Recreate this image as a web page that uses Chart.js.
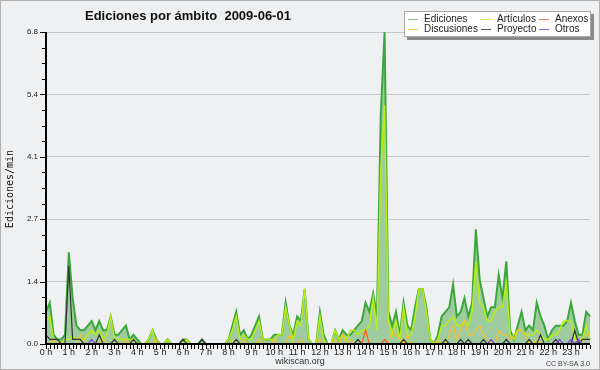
<!DOCTYPE html>
<html><head><meta charset="utf-8">
<script src="https://cdn.jsdelivr.net/npm/chart.js@4/dist/chart.umd.min.js"></script>
<style>html,body{margin:0;padding:0;background:#eff0f2;}canvas{display:block;}</style>
</head><body>
<canvas id="c" width="600" height="370"></canvas>
<script>
const TITLE = 'Ediciones por ámbito  2009-06-01';
const Y_TITLE = 'Ediciones/min';
const HOUR_LABELS = ['0 h','1 h','2 h','3 h','4 h','5 h','6 h','7 h','8 h','9 h','10 h','11 h','12 h','13 h','14 h','15 h','16 h','17 h','18 h','19 h','20 h','21 h','22 h','23 h'];
const MINUTES = ['00','10','20','30','40','50'];
const Y_TICKS = [0, 1.36, 2.72, 4.08, 5.44, 6.8];
const SERIES_NAMES = ['Ediciones','Artículos','Anexos','Discusiones','Proyecto','Otros'];

const EDICIONES = [
 0.7,0.9,0.2,0.1,0.1,0.2,2.0,1.0,0.4,0.3,0.3,0.4,
 0.5,0.3,0.5,0.3,0.3,0.6,0.2,0.2,0.3,0.4,0.1,0.2,
 0.1,0,0,0.1,0.3,0.1,0,0,0.1,0,0,0,
 0.1,0.1,0,0,0,0.1,0,0,0,0,0,0,
 0.1,0.4,0.7,0.2,0.3,0.1,0.2,0.4,0.6,0.1,0.1,0.1,
 0.2,0.2,0.2,0.9,0.4,0.2,0.6,0.5,1.2,0.1,0,0,
 0.7,0.2,0,0,0.3,0.1,0.3,0.2,0.2,0.3,0.4,0.5,
 0.9,0.7,1.1,0.6,5.0,6.8,0.7,0.4,0.7,0.2,0.9,0.4,
 0.3,0.8,1.2,1.2,0.8,0.1,0,0.2,0.6,0.7,0.8,1.3,
 0.6,0.7,1.0,0.6,0.9,2.5,1.4,1.0,0.6,0.8,0.8,1.5,
 1.0,1.8,0.3,0.1,0.4,0.7,0.3,0.4,0.3,0.9,0.6,0.4,
 0.1,0.3,0.4,0.4,0.4,0.5,0.9,0.5,0.2,0.2,0.7,0.6
];
const ARTICULOS = [
 0.5,0.6,0.1,0,0,0.1,0.1,0.2,0.1,0.1,0.1,0.2,
 0.3,0.2,0.3,0.1,0.2,0.6,0.1,0.1,0.1,0.1,0.1,0.1,
 0,0,0,0.1,0.3,0,0,0,0.1,0,0,0,
 0,0.1,0,0,0,0,0,0,0,0,0,0,
 0.1,0.3,0.6,0.1,0.2,0.1,0.1,0.3,0.5,0.1,0.1,0.1,
 0.1,0.2,0.2,0.8,0.4,0.1,0.5,0.4,1.2,0.1,0,0,
 0.6,0.1,0,0,0.3,0.1,0.2,0.1,0.3,0.3,0.2,0.3,
 0.3,0.4,1.0,0.3,3.8,5.2,0.5,0.2,0.5,0.1,0.8,0.2,
 0.2,0.6,1.2,1.2,0.7,0.1,0,0.1,0.4,0.4,0.5,0.6,
 0.4,0.4,0.5,0.4,0.7,1.8,0.9,0.8,0.5,0.5,0.7,0.8,
 0.8,1.3,0.2,0.1,0.3,0.3,0.2,0.2,0.2,0.3,0.2,0.1,
 0.1,0.2,0.2,0.3,0.5,0.5,0.5,0.1,0.1,0.1,0.4,0.1
];
const DISCUSIONES = [
 0,0,0.1,0,0,0,0,0,0,0.2,0,0,
 0,0,0,0.1,0,0,0.1,0,0,0.1,0,0,
 0,0,0,0,0,0.1,0,0,0,0,0,0,
 0,0,0,0,0,0,0,0,0,0,0,0,
 0,0.1,0,0,0.1,0,0,0,0.1,0,0,0,
 0.1,0,0,0,0.2,0,0,0.1,0,0,0,0,
 0.1,0,0,0,0.1,0,0.2,0,0.1,0,0,0,
 0.3,0,0,0,0,0,0,0.3,0.2,0.1,0,0.2,
 0,0,0,0,0,0,0,0.1,0,0,0.2,0.4,
 0.1,0.3,0.5,0.2,0.2,0.3,0.4,0.2,0.1,0,0,0.3,
 0.2,0.2,0.1,0.2,0.3,0.3,0.2,0,0,0.1,0,0,
 0,0,0,0,0,0,0,0,0,0,0.2,0.2
];
const ANEXOS = [
 0,0,0,0,0,0,0,0,0,0,0,0,
 0,0,0,0,0,0,0,0,0,0,0,0,
 0,0,0,0,0,0,0,0,0,0,0,0,
 0,0,0,0,0,0,0,0,0,0,0,0,
 0,0,0,0,0,0,0,0,0,0,0,0,
 0,0,0,0,0,0,0,0,0,0,0,0,
 0,0,0,0,0,0,0,0,0,0,0,0,
 0.3,0,0,0,0,0.1,0,0,0,0,0,0,
 0,0,0,0,0,0,0,0,0,0,0,0,
 0,0,0,0,0,0,0,0,0,0,0,0,
 0,0,0,0,0,0,0,0,0,0,0,0,
 0,0,0,0,0,0,0,0,0,0,0,0
];
const PROYECTO = [
 0.2,0.1,0.1,0.1,0,0,1.7,0.1,0.1,0.1,0,0,
 0,0,0.2,0,0,0,0.1,0,0,0,0,0.1,
 0,0,0,0,0,0,0,0,0,0,0,0,
 0.1,0,0,0,0,0.1,0,0,0,0,0,0,
 0,0,0.1,0,0,0,0,0,0,0,0,0,
 0,0,0,0,0,0,0,0,0,0,0,0,
 0,0,0,0,0,0,0,0,0,0,0.1,0,
 0,0,0,0,0,0,0,0,0,0,0.1,0,
 0,0,0,0,0,0,0,0,0,0.1,0,0,
 0,0.1,0,0.1,0,0,0,0.1,0,0,0,0,
 0,0.1,0,0,0,0,0,0.1,0,0,0.2,0,
 0,0,0.1,0,0,0,0,0.3,0,0.1,0.1,0.1
];
const OTROS = [
 0,0,0,0,0,0,0,0,0,0,0,0,
 0.1,0,0,0,0,0,0,0,0,0,0,0,
 0,0,0,0,0,0,0,0,0,0,0,0,
 0,0,0,0,0,0,0,0,0,0,0,0,
 0,0,0,0,0,0,0,0,0,0,0,0,
 0,0,0,0,0,0,0,0,0,0,0,0,
 0,0,0,0,0,0,0,0,0,0,0,0,
 0,0,0,0,0,0,0,0,0,0,0,0,
 0,0,0,0,0,0,0,0,0,0,0,0,
 0,0,0,0,0,0,0,0,0,0.1,0,0,
 0,0,0,0,0,0,0,0,0,0,0,0,
 0,0,0,0.1,0,0,0.1,0,0.1,0,0,0
];

const CATEGORIES = [];
HOUR_LABELS.forEach(h => MINUTES.forEach(m => CATEGORIES.push(h.replace(' h','') + ':' + m)));

const COLORS = {
  'Ediciones': '#3aa83a', 'Artículos': '#b8ee14', 'Anexos': '#f2622a',
  'Discusiones': '#f5c22c', 'Proyecto': '#333333', 'Otros': '#8a3cf0'
};
const LEGEND_COLORS = {
  'Ediciones': '#80c880', 'Artículos': '#c8ec50', 'Anexos': '#f5824a',
  'Discusiones': '#f8cc48', 'Proyecto': '#555555', 'Otros': '#9a5cf0'
};

const decor = {
  id: 'decor',
  beforeDraw(chart) {
    const ctx = chart.ctx;
    ctx.save();
    ctx.fillStyle = '#eff0f2';
    ctx.fillRect(0, 0, 600, 370);
    ctx.restore();
  },
  afterDraw(chart) {
    const ctx = chart.ctx;
    const xs = chart.scales.x, ys = chart.scales.y;
    const ca = chart.chartArea;
    ctx.save();
    // axes
    ctx.fillStyle = '#000';
    ctx.fillRect(45, ca.top, 2, ca.bottom - ca.top + 1);
    ctx.fillRect(45, ca.bottom - 1, ca.right - 45, 2);
    // x ticks
    for (let i = 0; i < CATEGORIES.length; i++) {
      const x = Math.round(xs.getPixelForTick(i));
      ctx.fillRect(x, ca.bottom + 1, 1, 4);
    }
    // y ticks
    const step = Y_TICKS[1] / 4;
    for (let k = 0; k <= 20; k++) {
      const y = Math.round(ys.getPixelForValue(k * step));
      const major = k % 4 === 0;
      ctx.fillRect(major ? 40 : 42, y, major ? 5 : 3, 1);
    }
    // title
    ctx.fillStyle = '#111';
    ctx.font = 'bold 13px "Liberation Sans"';
    ctx.textAlign = 'left';
    ctx.textBaseline = 'alphabetic';
    ctx.fillText(TITLE, 85, 20);
    // y title
    ctx.save();
    ctx.translate(10, 189);
    ctx.rotate(-Math.PI / 2);
    ctx.font = '10px "DejaVu Sans Mono"';
    ctx.textAlign = 'center';
    ctx.textBaseline = 'middle';
    ctx.fillStyle = '#111';
    ctx.fillText(Y_TITLE, 0, 0);
    ctx.restore();
    // footer
    ctx.fillStyle = '#333';
    ctx.font = '9px "Liberation Sans"';
    ctx.textAlign = 'center';
    ctx.fillText('wikiscan.org', 300, 364);
    ctx.font = '7px "Liberation Sans"';
    ctx.textAlign = 'right';
    ctx.fillStyle = '#444';
    ctx.fillText('CC BY-SA 3.0', 590, 366);
    // legend
    ctx.fillStyle = '#8a8a8a';
    ctx.fillRect(407, 14, 187, 26);
    ctx.fillStyle = '#ffffff';
    ctx.fillRect(404, 11, 187, 26);
    ctx.strokeStyle = '#a8a8a8';
    ctx.lineWidth = 1;
    ctx.strokeRect(404.5, 11.5, 186, 25);
    const cols = [[408, 424], [481, 497], [539, 555]];
    const rows = [19, 29];
    ctx.font = '10px "Liberation Sans"';
    ctx.textAlign = 'left';
    ctx.textBaseline = 'middle';
    SERIES_NAMES.forEach((name, n) => {
      const c = cols[n % 3], r = rows[Math.floor(n / 3)];
      ctx.fillStyle = LEGEND_COLORS[name];
      ctx.fillRect(c[0], r, 10, 1);
      ctx.fillStyle = '#222';
      ctx.fillText(name, c[1], r);
    });
    // outer border
    ctx.strokeStyle = '#b0b0b0';
    ctx.strokeRect(0.5, 0.5, 599, 369);
    ctx.restore();
  }
};

function ds(label, data, order, extra) {
  return Object.assign({
    label, data, order,
    borderColor: COLORS[label], borderWidth: 1.2,
    pointRadius: 0, tension: 0, fill: false, clip: 6
  }, extra || {});
}

new Chart(document.getElementById('c'), {
  type: 'line',
  data: {
    labels: CATEGORIES,
    datasets: [
      ds('Ediciones', EDICIONES, 10, {fill: 'origin', backgroundColor: '#9ecb9f', borderWidth: 2}),
      ds('Artículos', ARTICULOS, 5, {borderWidth: 1.5}),
      ds('Discusiones', DISCUSIONES, 4),
      ds('Anexos', ANEXOS, 3),
      ds('Proyecto', PROYECTO, 2),
      ds('Otros', OTROS, 1)
    ]
  },
  options: {
    responsive: false,
    animation: false,
    devicePixelRatio: 1,
    layout: {padding: {left: 0, top: 32, right: 10, bottom: 0}},
    plugins: {legend: {display: false}, title: {display: false}, tooltip: {enabled: false}},
    scales: {
      x: {
        type: 'category',
        offset: false,
        grid: {display: false, drawTicks: false},
        border: {display: false},
        ticks: {
          autoSkip: false, maxRotation: 0, minRotation: 0, padding: 3,
          font: {family: 'Liberation Sans', size: 9}, color: '#222',
          callback: (v, i) => (i % 6 === 0 ? HOUR_LABELS[i / 6] : '')
        },
        afterFit: s => { s.height = 26; }
      },
      y: {
        type: 'linear', min: 0, max: Y_TICKS[Y_TICKS.length - 1],
        afterBuildTicks: s => { s.ticks = Y_TICKS.map(v => ({value: v})); },
        grid: {drawTicks: false, color: c => (c.tick && c.tick.value === 0 ? 'rgba(0,0,0,0)' : '#c8c8c8'), lineWidth: 1},
        border: {display: false},
        ticks: {padding: 8, font: {family: 'Liberation Sans', size: 8}, color: '#222', callback: v => Number(v).toFixed(1)},
        afterFit: s => { s.width = 46; }
      }
    }
  },
  plugins: [decor]
});
</script>
</body></html>
